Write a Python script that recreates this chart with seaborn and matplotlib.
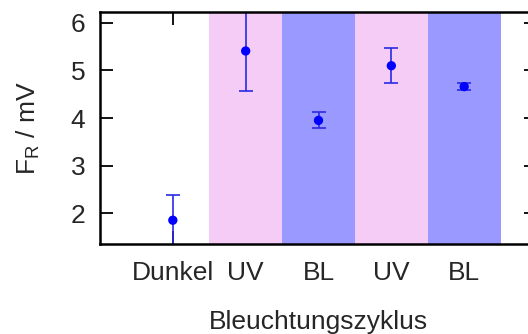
import matplotlib
matplotlib.use("Agg")
import matplotlib.pyplot as plt
import seaborn as sns
import pandas as pd

# Illumination cycle: categories, mean signal and error
cycles = ["Dunkel", "UV", "BL", "UV", "BL"]
signal = [1.85, 5.41, 3.95, 5.10, 4.66]
error = [0.53, 0.85, 0.17, 0.37, 0.07]
band_colors = [None, "#f5ccf5", "#9999ff", "#f5ccf5", "#9999ff"]
yticks = [2, 3, 4, 5, 6]

sns.set_style("white")
plt.rcParams["font.family"] = ["Liberation Sans", "DejaVu Sans"]
plt.rcParams["mathtext.default"] = "regular"

df = pd.DataFrame({"pos": range(len(cycles)), "signal": signal, "error": error})

fig = plt.figure(figsize=(5.28, 3.34), dpi=100)
W, H = 528, 334
ax = fig.add_axes([100 / W, 1 - 244 / H, (537 - 100) / W, (244 - 12) / H])

# Coloured background band behind each illumination step
for p, c in zip(df["pos"], band_colors):
    if c is not None:
        ax.axvspan(p - 0.5, p + 0.5, color=c, lw=0, zorder=1)

ax.errorbar(df["pos"], df["signal"], yerr=df["error"], fmt="none",
            ecolor="#2a2ae6", elinewidth=1.2, capsize=5, capthick=1.2, zorder=3)
sns.scatterplot(data=df, x="pos", y="signal", ax=ax, color="#0000ff",
                s=45, edgecolor="none", zorder=4)

ax.set_xlim(-1, 5)
ax.set_ylim(1.35, 6.23)
ax.set_xticks(df["pos"])
ax.set_xticklabels(cycles)
ax.set_yticks(yticks)
ax.set_axisbelow(True)

ax.tick_params(axis="both", direction="in", length=9.5, width=1.3,
               color="black", labelsize=19, top=True, right=True,
               bottom=True, left=True)
ax.tick_params(axis="x", pad=12)
ax.tick_params(axis="y", pad=10.5)

for s in ax.spines.values():
    s.set_color("black")
    s.set_linewidth(1.8)
    s.set_zorder(5)

ax.set_xlabel("Bleuchtungszyklus", fontsize=19, labelpad=18)
ax.set_ylabel("F$_{R}$ / mV", fontsize=19)
ax.yaxis.set_label_coords(-0.132, 0.5)

fig.savefig("out.png", dpi=100)
